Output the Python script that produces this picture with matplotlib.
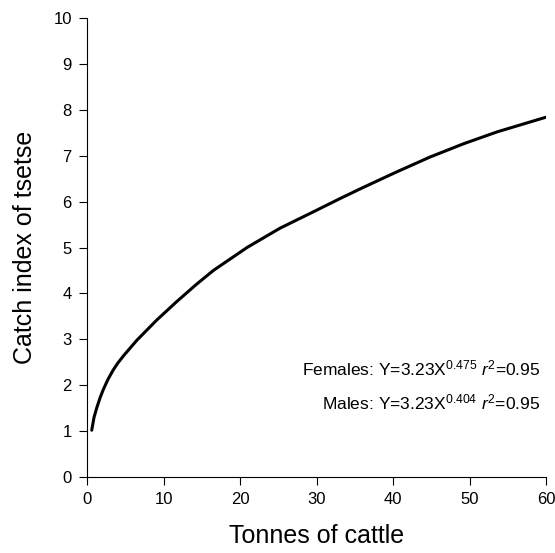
import matplotlib
matplotlib.use("Agg")
import matplotlib.pyplot as plt

plt.rcParams['font.family'] = ['Liberation Sans', 'DejaVu Sans']
plt.rcParams['mathtext.fontset'] = 'custom'
plt.rcParams['mathtext.rm'] = 'Liberation Sans'
plt.rcParams['mathtext.it'] = 'Liberation Sans:italic'

# values
tonnes = [0.6, 0.9, 1.3, 1.7, 2.1, 2.7, 3.4, 4.0, 4.8, 6.5, 9.1, 11.7, 14.3,
          16.5, 20.9, 25.2, 29.6, 33.1, 36.1, 40.5, 44.8, 49.2, 53.6, 60]
catch = [1.02, 1.30, 1.53, 1.73, 1.90, 2.12, 2.33, 2.48, 2.65, 2.98, 3.42,
         3.82, 4.20, 4.50, 5.00, 5.42, 5.78, 6.07, 6.31, 6.65, 6.97, 7.26,
         7.52, 7.84]

fig = plt.figure(figsize=(5.55, 5.53), dpi=100)
ax = fig.add_axes([0.157, 0.1374, 0.827, 0.83])
ax.plot(tonnes, catch, color='black', lw=2.2, solid_capstyle='round')

ax.set_xlim(0, 60)
ax.set_ylim(0, 10)
ax.set_xticks(range(0, 61, 10))
ax.set_yticks(range(0, 11))
ax.spines['top'].set_visible(False)
ax.spines['right'].set_visible(False)
ax.tick_params(direction='out', length=6, width=0.8, labelsize=12, pad=5)
ax.set_xlabel("Tonnes of cattle", fontsize=18, labelpad=12)
ax.set_ylabel("Catch index of tsetse", fontsize=18, labelpad=12)

ax.text(59.2, 2.37, r'Females: Y=3.23X$^{0.475}$ $\mathit{r}^{2}$=0.95',
        ha='right', va='center', fontsize=12.5)
ax.text(59.2, 1.63, r'Males: Y=3.23X$^{0.404}$ $\mathit{r}^{2}$=0.95',
        ha='right', va='center', fontsize=12.5)

fig.savefig("out.png", dpi=100)
